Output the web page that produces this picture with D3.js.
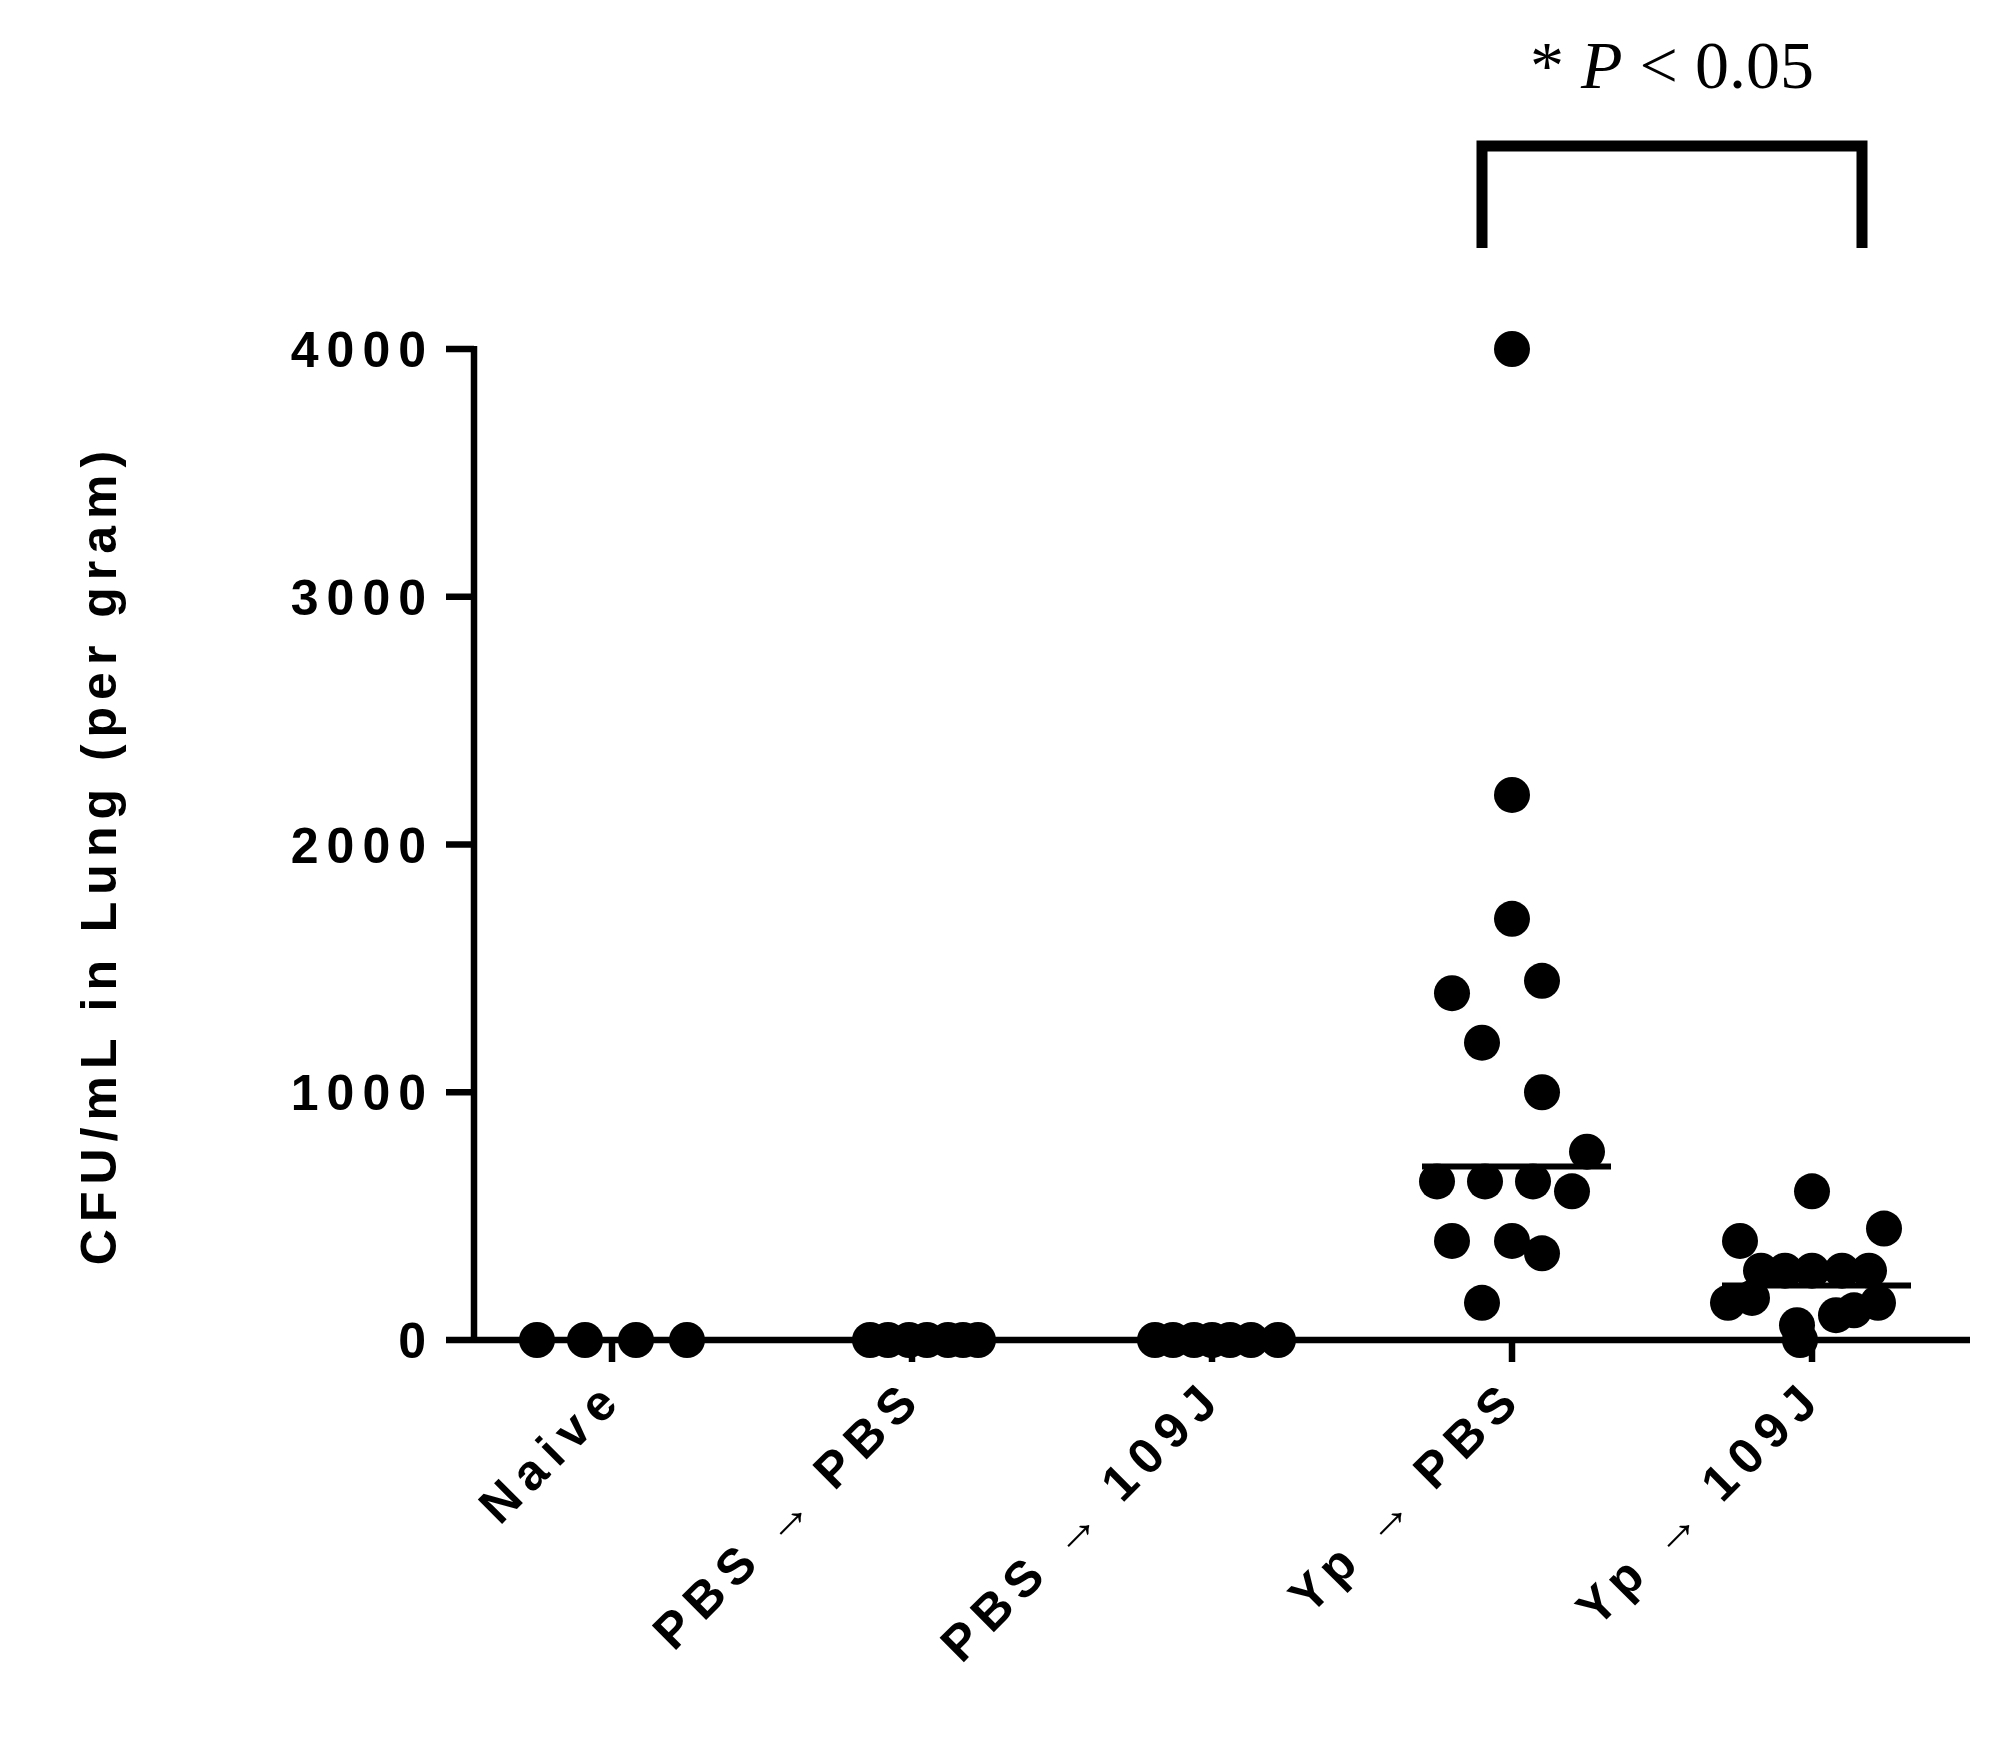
<!DOCTYPE html>
<html><head><meta charset="utf-8">
<script src="https://cdn.jsdelivr.net/npm/d3@7"></script>
<style>body{margin:0;background:#fff}</style></head>
<body><div id="vis"></div>
<script>
// data
const CATEGORIES = ["Naive", "PBS\u2192PBS", "PBS\u2192109J", "Yp\u2192PBS", "Yp\u2192109J"];
const LABELS = ["Naive", "PBS\u2009\u2192\u2009PBS", "PBS\u2009\u2192\u2009109J", "Yp\u2009\u2192\u2009PBS", "Yp\u2009\u2192\u2009109J"];
const VALUES = [
  [0, 0, 0, 0],
  [0, 0, 0, 0, 0, 0, 0],
  [0, 0, 0, 0, 0, 0, 0],
  [4000, 2200, 1700, 1400, 1450, 1200, 1000, 760, 640, 640, 640, 600, 400, 400, 350, 150],
  [600, 400, 450, 280, 280, 280, 280, 280, 150, 150, 170, 60, 0, 100, 120]
];
// horizontal scatter offsets, in units of category spacing
const JITTER = [
  [-0.25, -0.09, 0.08, 0.25],
  [-0.14, -0.08, -0.01, 0.05, 0.12, 0.17, 0.22],
  [-0.19, -0.13, -0.06, 0, 0.06, 0.13, 0.22],
  [0, 0, 0, -0.2, 0.1, -0.1, 0.1, 0.25, -0.25, -0.09, 0.07, 0.2, -0.2, 0, 0.1, -0.1],
  [0, -0.24, 0.24, -0.17, -0.09, 0, 0.1, 0.19, -0.28, 0.22, -0.2, -0.05, -0.04, 0.08, 0.14]
];
const MEDIANS = [0, 0, 0, 700, 220];
const Y_TICKS = [0, 1000, 2000, 3000, 4000];

const W = 2003, H = 1746;
const svg = d3.select("#vis").append("svg").attr("width", W).attr("height", H);

const Y = d3.scaleLinear().domain([0, 4000]).range([1340, 349]);
const X = d3.scalePoint().domain(CATEGORIES).range([612, 1812]);
const STEP = X.step();
const AXIS_X = 474, AXIS_END = 1970;
const R = 18;

// y axis
svg.append("line").attr("x1", AXIS_X).attr("x2", AXIS_X)
  .attr("y1", Y(4000) - 3).attr("y2", Y(0)).attr("stroke", "#000").attr("stroke-width", 6.5);
svg.selectAll(".ytick").data(Y_TICKS).enter().append("line")
  .attr("x1", AXIS_X - 28).attr("x2", AXIS_X).attr("y1", d => Y(d)).attr("y2", d => Y(d))
  .attr("stroke", "#000").attr("stroke-width", 6.5);
svg.selectAll(".ylab").data(Y_TICKS).enter().append("text")
  .attr("x", AXIS_X - 40).attr("y", d => Y(d)).attr("dy", "0.36em")
  .attr("text-anchor", "end").attr("font-family", "Liberation Sans, Arial").attr("font-weight", "bold")
  .attr("font-size", 50).attr("letter-spacing", 8).text(d => d);

// x axis
svg.append("line").attr("x1", AXIS_X).attr("x2", AXIS_END).attr("y1", Y(0)).attr("y2", Y(0))
  .attr("stroke", "#000").attr("stroke-width", 6.5);
svg.selectAll(".xtick").data(CATEGORIES).enter().append("line")
  .attr("x1", d => X(d)).attr("x2", d => X(d)).attr("y1", Y(0)).attr("y2", Y(0) + 22)
  .attr("stroke", "#000").attr("stroke-width", 6.5);
svg.selectAll(".xlab").data(CATEGORIES).enter().append("text")
  .attr("transform", d => "translate(" + (X(d) + 14) + "," + (Y(0) + 60) + ") rotate(-45)")
  .attr("text-anchor", "end").attr("font-family", "Liberation Sans, Arial").attr("font-weight", "bold")
  .attr("font-size", 50).attr("letter-spacing", 9).text((d, i) => LABELS[i]);

// y title
svg.append("text").attr("transform", "translate(116," + ((Y(0) + Y(4000)) / 2 + 10) + ") rotate(-90)")
  .attr("text-anchor", "middle").attr("font-family", "Liberation Sans, Arial").attr("font-weight", "bold")
  .attr("font-size", 50).attr("letter-spacing", 7).text("CFU/mL in Lung (per gram)");

// points
const PTS = [];
VALUES.forEach((vals, i) => vals.forEach((v, j) => PTS.push({c: CATEGORIES[i], v: v, o: JITTER[i][j]})));
svg.selectAll(".pt").data(PTS).enter().append("circle")
  .attr("cx", d => X(d.c) + d.o * STEP).attr("cy", d => Y(d.v)).attr("r", R).attr("fill", "#000");

// median lines
svg.selectAll(".med").data(MEDIANS).enter().append("line")
  .attr("x1", (d, i) => X(CATEGORIES[i]) - 0.3 * STEP).attr("x2", (d, i) => X(CATEGORIES[i]) + 0.33 * STEP)
  .attr("y1", d => Y(d)).attr("y2", d => Y(d)).attr("stroke", "#000").attr("stroke-width", 6);

// significance bracket
const bx1 = X(CATEGORIES[3]) - 30, bx2 = X(CATEGORIES[4]) + 50;
svg.append("path").attr("d", `M${bx1},248 V146 H${bx2} V248`)
  .attr("fill", "none").attr("stroke", "#000").attr("stroke-width", 11);
const t = svg.append("text").attr("x", (bx1 + bx2) / 2).attr("y", 88).attr("text-anchor", "middle")
  .attr("font-family", "Liberation Serif, Times New Roman").attr("font-size", 68);
t.append("tspan").text("* ");
t.append("tspan").attr("font-style", "italic").text("P");
t.append("tspan").text(" < 0.05");
</script></body></html>
